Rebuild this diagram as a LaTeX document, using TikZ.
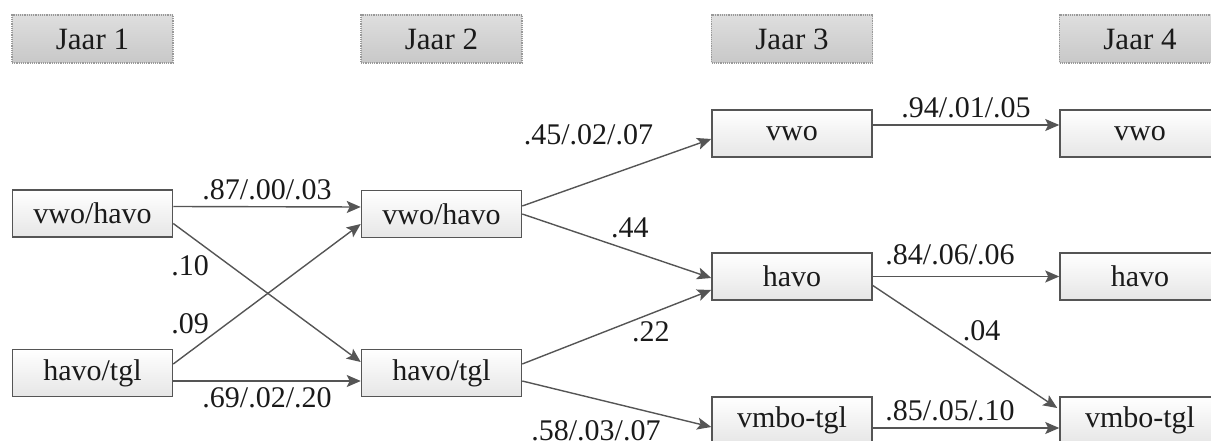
\documentclass[tikz,border=0pt]{standalone}
\usepackage{fontspec}
\setmainfont{Liberation Serif}
\usetikzlibrary{arrows.meta,positioning,calc}
\definecolor{linegray}{HTML}{555555}
\definecolor{textgray}{HTML}{1A1A1A}
\definecolor{headtop}{HTML}{DEDEDE}
\definecolor{headbot}{HTML}{C8C8C8}
\definecolor{boxbot}{HTML}{E6E6E6}
\tikzset{
  yearbox/.style={draw=gray!80, densely dotted, line width=1.2pt, top color=headtop, bottom color=headbot,
    minimum width=161pt, minimum height=48pt, text=textgray, font=\fontsize{31}{35}\selectfont},
  levelbox/.style={draw=linegray, line width=1.5pt, top color=white, bottom color=boxbot,
    minimum width=160pt, minimum height=47pt, text=textgray, font=\fontsize{30}{34}\selectfont},
  flow/.style={draw=linegray, line width=1.4pt, -{Stealth[length=14pt,width=12pt,inset=3pt]}},
  prob/.style={text=textgray, font=\fontsize{30}{34}\selectfont, inner sep=2pt},
}
\begin{document}
\begin{tikzpicture}[x=1pt,y=-1pt]
\useasboundingbox (0,0) rectangle (1211,441);
\clip (0,0) rectangle (1211,441);

\foreach \x/\n in {92.5/1,441.5/2,792/3,1140/4}
  \node[yearbox] (jaar\n) at (\x,39) {Jaar \n};

\node[levelbox] (vh1) at (92.5,213.5) {vwo/havo};
\node[levelbox] (ht1) at (92.5,373) {havo/tgl};
\node[levelbox] (vh2) at (441.5,214) {vwo/havo};
\node[levelbox] (ht2) at (441.5,373) {havo/tgl};
\node[levelbox] (vwo3) at (792,133.5) {vwo};
\node[levelbox] (havo3) at (792,276.5) {havo};
\node[levelbox] (vmbo3) at (792,420.5) {vmbo-tgl};
\node[levelbox] (vwo4) at (1140,133.5) {vwo};
\node[levelbox] (havo4) at (1140,276.5) {havo};
\node[levelbox] (vmbo4) at (1140,420.5) {vmbo-tgl};

\draw[flow] ($(vh1.east)+(0,-7)$) -- node[prob,above=4pt] {.87/.00/.03} ($(vh2.west)+(0,-7)$);
\draw[flow] ($(ht1.east)+(0,8)$) -- node[prob,below=4pt] {.69/.02/.20} ($(ht2.west)+(0,8)$);
\draw[flow] ($(vh1.east)+(0,10)$) -- node[prob,pos=0.09,below=17pt] {.10} ($(ht2.west)+(0,-11)$);
\draw[flow] ($(ht1.east)+(0,-9)$) -- node[prob,pos=0.09,above=15pt] {.09} ($(vh2.west)+(0,10)$);

\draw[flow] ($(vh2.east)+(0,-8)$) -- node[prob,pos=0.35,above=35pt] {.45/.02/.07} ($(vwo3.west)+(0,5.5)$);
\draw[flow] (vh2.east) -- node[prob,pos=0.57,above=10pt] {.44} ($(havo3.west)+(0,1.5)$);
\draw[flow] ($(ht2.east)+(0,-9)$) -- node[prob,pos=0.68,below=5pt] {.22} ($(havo3.west)+(0,13.5)$);
\draw[flow] ($(ht2.east)+(0,8)$) -- node[prob,pos=0.39,below=19pt] {.58/.03/.07} ($(vmbo3.west)+(0,6.5)$);

\draw[flow] ($(vwo3.east)+(0,-8.5)$) -- node[prob,above=4pt] {.94/.01/.05} ($(vwo4.west)+(0,-8.5)$);
\draw[flow] (havo3.east) -- node[prob,above=9pt,xshift=-16pt] {.84/.06/.06} (havo4.west);
\draw[flow] ($(havo3.east)+(0,9)$) -- node[prob,pos=0.59,above=14pt] {.04} ($(vmbo4.west)+(-2,-12.5)$);
\draw[flow] ($(vmbo3.east)+(0,7.5)$) -- node[prob,above=4pt,xshift=-16pt] {.85/.05/.10} ($(vmbo4.west)+(0,7.5)$);
\end{tikzpicture}
\end{document}
